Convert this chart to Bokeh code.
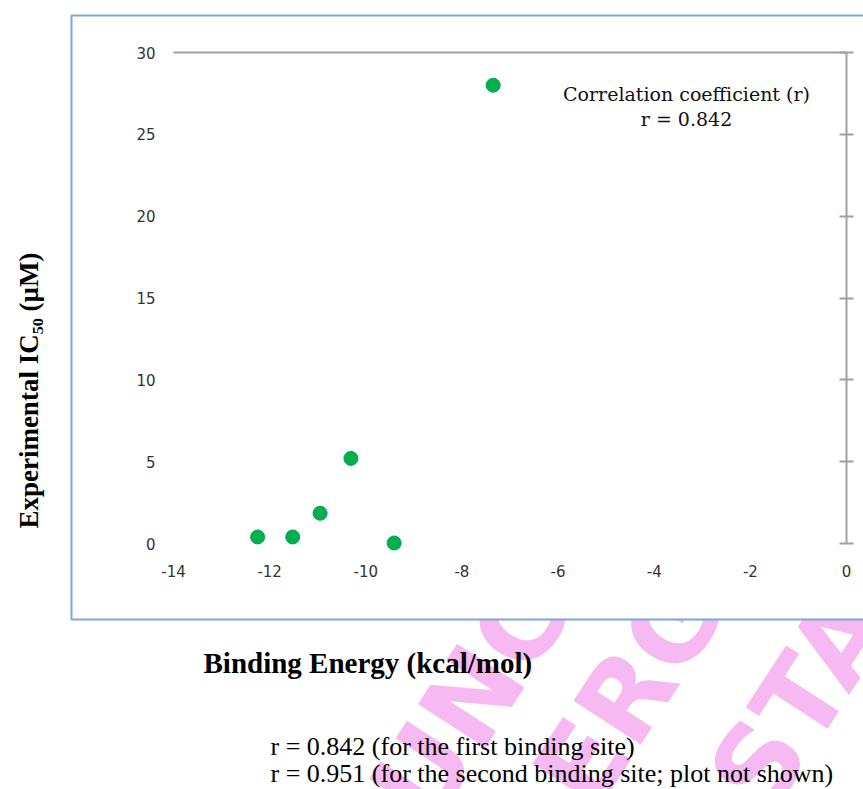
from bokeh.plotting import figure
from bokeh.models import Range1d, LinearAxis, FixedTicker, Label, BoxAnnotation
from bokeh.embed import file_html
from bokeh.resources import INLINE

# Docking results: binding energy vs. measured IC50 (first binding site)
binding_energy = [-12.25, -11.52, -10.95, -10.31, -9.41, -7.35]
ic50_um = [0.4, 0.4, 1.85, 5.2, 0.03, 28.0]

x_ticks = [-14, -12, -10, -8, -6, -4, -2, 0]
x_tick_labels = ["-14", "-12", "-10", "-8", "-6", "-4", "-2", "0"]
y_ticks = [0, 5, 10, 15, 20, 25, 30]
y_tick_labels = ["0", "5", "10", "15", "20", "25", "30"]

x_title = "Binding Energy (kcal/mol)"
y_title = "Experimental IC₅₀ (µM)"
note_lines = ["Correlation coefficient (r)", "r = 0.842"]
footnotes = ["r = 0.842 (for the first binding site)",
             "r = 0.951 (for the second binding site; plot not shown)"]

# page size and the pixel box of the plotting area
W, H = 863, 789
PL, PR, PT, PB = 173, 846, 52, 543
XMIN, XMAX = x_ticks[0], x_ticks[-1]
YMIN, YMAX = y_ticks[0], y_ticks[-1]
KX = (PR - PL) / (XMAX - XMIN)
KY = (PB - PT) / (YMAX - YMIN)


def dx(px):
    return XMIN + (px - PL) / KX


def dy(py):
    return YMIN + (PB - py) / KY


p = figure(width=W, height=H,
           x_range=Range1d(dx(0), dx(W)), y_range=Range1d(dy(H), dy(0)),
           output_backend="svg", toolbar_location=None,
           x_axis_location=None, y_axis_location=None, min_border=0)
p.xgrid.visible = False
p.ygrid.visible = False
p.outline_line_color = None
p.background_fill_color = "white"
p.border_fill_color = "white"

# faint diagonal watermark lettering behind the chart box
for txt, cx, cy in [("UNC", 470, 700), ("ERG", 630, 690), ("STA", 800, 700)]:
    p.add_layout(Label(x=dx(cx), y=dy(cy), text=txt, angle=57, angle_units="deg",
                       text_align="center", text_baseline="middle",
                       text_font="DejaVu Sans", text_font_style="bold",
                       text_font_size="110px", text_color="#F5A8EE",
                       text_alpha=0.8, level="image"))

# chart box
p.add_layout(BoxAnnotation(left=dx(71), right=dx(W + 40), top=dy(15), bottom=dy(619),
                           fill_color="white", fill_alpha=1.0,
                           line_color="#7FA5DA", line_alpha=1.0, line_width=2,
                           level="underlay"))

axis_grey = "#A0A0A0"

# horizontal rule along the top of the plotting area
top_rule = LinearAxis(fixed_location=YMAX, bounds=(XMIN, XMAX),
                      ticker=FixedTicker(ticks=[]),
                      axis_line_color=axis_grey, axis_line_width=2,
                      major_tick_line_color=None, minor_tick_line_color=None)
p.add_layout(top_rule, "above")

# vertical axis line at x = 0 with cross ticks
y_rule = LinearAxis(fixed_location=XMAX, bounds=(YMIN, YMAX),
                    ticker=FixedTicker(ticks=y_ticks),
                    axis_line_color=axis_grey, axis_line_width=2,
                    major_tick_line_color=axis_grey, major_tick_line_width=2,
                    major_tick_in=7, major_tick_out=7,
                    minor_tick_line_color=None, major_label_standoff=0)
y_rule.major_label_overrides = {t: "" for t in y_ticks}
p.add_layout(y_rule, "right")

label_style = dict(major_label_text_font="DejaVu Sans",
                   major_label_text_font_size="15px",
                   major_label_text_color="#333333",
                   axis_line_color=None, major_tick_line_color=None,
                   minor_tick_line_color=None, major_tick_in=0, major_tick_out=0)

# tick labels placed low (left of and below the plotting area)
y_labels = LinearAxis(fixed_location=XMIN, ticker=FixedTicker(ticks=y_ticks),
                      major_label_standoff=18, **label_style)
y_labels.major_label_overrides = dict(zip(y_ticks, y_tick_labels))
p.add_layout(y_labels, "left")

x_labels = LinearAxis(fixed_location=YMIN, ticker=FixedTicker(ticks=x_ticks),
                      major_label_standoff=21, **label_style)
x_labels.major_label_overrides = dict(zip(x_ticks, x_tick_labels))
p.add_layout(x_labels, "below")

p.scatter(binding_energy, ic50_um, size=14, fill_color="#00B050",
          line_color="#00A64B", line_width=1)

# correlation note inside the chart
for i, line in enumerate(note_lines):
    p.add_layout(Label(x=dx(686), y=dy(93 + 25 * i), text=line,
                       text_align="center", text_baseline="middle",
                       text_font="DejaVu Serif", text_font_size="19px",
                       text_color="#111111"))

# axis titles
p.add_layout(Label(x=dx(203), y=dy(662), text=x_title,
                   text_align="left", text_baseline="middle",
                   text_font="Liberation Serif", text_font_style="bold",
                   text_font_size="29px", text_color="black"))
p.add_layout(Label(x=dx(28), y=dy(390), text=y_title, angle=90, angle_units="deg",
                   text_align="center", text_baseline="middle",
                   text_font="Liberation Serif", text_font_style="bold",
                   text_font_size="27px", text_color="black"))

# footnotes below the chart
for i, line in enumerate(footnotes):
    p.add_layout(Label(x=dx(270), y=dy(746 + 27 * i), text=line,
                       text_align="left", text_baseline="middle",
                       text_font="Liberation Serif", text_font_size="26px",
                       text_color="black"))

open("out.html", "w").write(file_html(p, INLINE))
